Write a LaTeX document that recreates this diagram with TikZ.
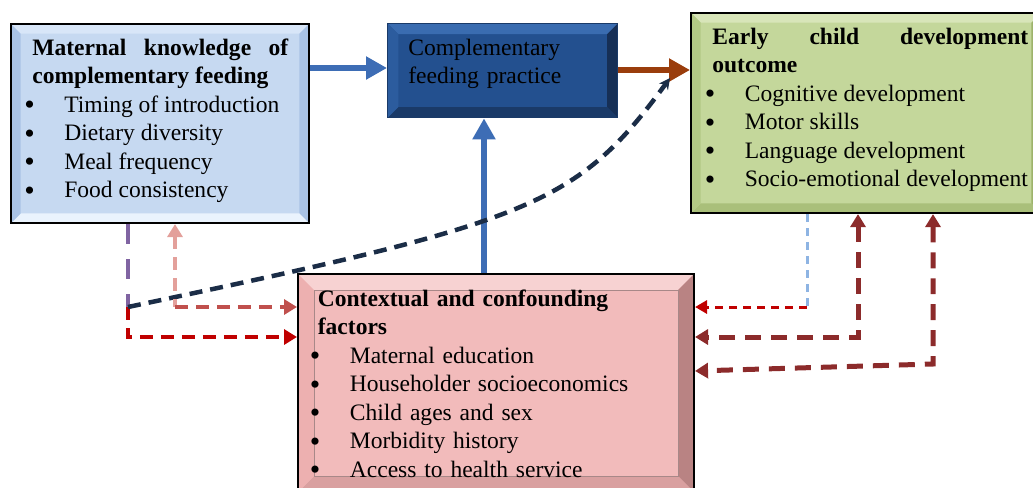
\documentclass[tikz,border=0pt]{standalone}
\usepackage{fontspec}
\setmainfont{Liberation Serif}
\usepackage{xcolor}
\usetikzlibrary{arrows.meta, positioning}

\definecolor{knowfill}{HTML}{C6D9F1}
\definecolor{knowtop}{HTML}{D8E6F8}
\definecolor{knowside}{HTML}{A9C3E6}
\definecolor{knowbot}{HTML}{EAF3FD}
\definecolor{pracfill}{HTML}{23508F}
\definecolor{practop}{HTML}{3A6CB0}
\definecolor{pracleft}{HTML}{2C5C9E}
\definecolor{pracright}{HTML}{162F56}
\definecolor{pracbot}{HTML}{1A3A68}
\definecolor{outfill}{HTML}{C4D79B}
\definecolor{outtop}{HTML}{D8E5B9}
\definecolor{outleft}{HTML}{B3C985}
\definecolor{outright}{HTML}{9DB36B}
\definecolor{outbot}{HTML}{A9BF7A}
\definecolor{confill}{HTML}{F2BBBB}
\definecolor{contop}{HTML}{F7D2D2}
\definecolor{conleft}{HTML}{EDB0B0}
\definecolor{conright}{HTML}{B98383}
\definecolor{conbot}{HTML}{D9A0A0}
\definecolor{conedge}{HTML}{A88888}
\definecolor{linkblue}{HTML}{3D6DB5}
\definecolor{linkbrown}{HTML}{9A3D0C}
\definecolor{linknavy}{HTML}{1B2D47}
\definecolor{linkpurple}{HTML}{8064A2}
\definecolor{linkred}{HTML}{C00000}
\definecolor{linksalmon}{HTML}{E3A09B}
\definecolor{linksalmondk}{HTML}{C0504D}
\definecolor{linkltblue}{HTML}{8EB4E3}
\definecolor{linkmaroon}{HTML}{8C2B2B}

\newcommand{\itm}[1]{\makebox[0.8cm][l]{\raisebox{-0.05cm}{\fontsize{17}{16}\selectfont\textbullet}}#1}

\tikzset{
    bevel/.style n args={6}{path picture={
        \coordinate (nw) at (path picture bounding box.north west);
        \coordinate (ne) at (path picture bounding box.north east);
        \coordinate (sw) at (path picture bounding box.south west);
        \coordinate (se) at (path picture bounding box.south east);
        \fill[#1] (nw) -- (ne) -- ([shift={(-#5,-#5)}]ne) -- ([shift={(#5,-#5)}]nw) -- cycle;
        \fill[#2] (ne) -- (se) -- ([shift={(-#5,#5)}]se) -- ([shift={(-#5,-#5)}]ne) -- cycle;
        \fill[#3] (se) -- (sw) -- ([shift={(#5,#5)}]sw) -- ([shift={(-#5,#5)}]se) -- cycle;
        \fill[#4] (sw) -- (nw) -- ([shift={(#5,-#5)}]nw) -- ([shift={(#5,#5)}]sw) -- cycle;
        \draw[#6] ([shift={(#5,-#5)}]nw) rectangle ([shift={(-#5,#5)}]se);
    }},
    box/.style={rectangle, draw=black, line width=1.2pt, anchor=north west, inner sep=0pt},
    boxtext/.style={anchor=north west, inner sep=0pt, align=justify, font=\fontsize{13.4}{16.2}\selectfont},
    solidarrow/.style={line width=0.12cm, -{Triangle[length=0.42cm, width=0.44cm]}},
    dashlink/.style={line width=0.09cm, dash pattern=on 0.26cm off 0.16cm},
    dtip/.tip={Triangle[length=0.26cm, width=0.3cm]}
}

\begin{document}
\begin{tikzpicture}[x=0.02cm, y=-0.02cm]
    \useasboundingbox (0,0) rectangle (1033,487);
    \clip (0,0) rectangle (1033,487);

    \node (know) [box, fill=knowfill, minimum width=5.96cm, minimum height=3.98cm,
        bevel={knowtop}{knowside}{knowbot}{knowside}{5.5pt}{draw=none}] at (10,23) {};
    \node (prac) [box, draw=pracbot, line width=0.8pt, fill=pracfill, minimum width=4.6cm, minimum height=1.88cm,
        bevel={practop}{pracright}{pracbot}{pracleft}{6pt}{draw=none}] at (387,23) {};
    \node (out) [box, fill=outfill, minimum width=7cm, minimum height=4cm,
        bevel={outtop}{outright}{outbot}{outleft}{5.5pt}{draw=none}] at (690,12) {};
    \node (con) [box, fill=confill, minimum width=7.92cm, minimum height=4.36cm,
        bevel={contop}{conright}{conbot}{conleft}{9pt}{draw=conedge, line width=0.4pt}] at (297,273) {};

    \node (knowtxt) [boxtext, text width=5.28cm] at (24,38.5)
        {\hspace*{0.16cm}\textbf{Maternal knowledge of\linebreak\hspace*{0.16cm}complementary feeding}\\
        \itm{Timing of introduction}\\ \itm{Dietary diversity}\\
        \itm{Meal frequency}\\ \itm{Food consistency}};
    \node (practxt) [boxtext, align=left, text width=4cm] at (408,38.5)
        {Complementary\\ feeding practice};
    \node (outtxt) [boxtext, text width=6.47cm] at (704.5,27.5)
        {\hspace*{0.15cm}\textbf{Early child development\linebreak\hspace*{0.15cm}outcome}\\
        \itm{Cognitive development}\\ \itm{Motor skills}\\
        \itm{Language development}\\ \itm{Socio-emotional development}};
    \node (contxt) [boxtext, align=left, text width=7.4cm] at (309.5,289.5)
        {\hspace*{0.16cm}\textbf{Contextual and confounding}\\ \hspace*{0.16cm}\textbf{factors}\\
        \itm{Maternal education}\\ \itm{Householder socioeconomics}\\
        \itm{Child ages and sex}\\ \itm{Morbidity history}\\
        \itm{Access to health service}};

    \draw [solidarrow, linkblue] (know.east |- 0,68) -- (prac.west |- 0,68);
    \draw [solidarrow, linkbrown] (prac.east |- 0,70) -- (out.west |- 0,70);
    \draw [solidarrow, linkblue] (con.north -| 484,0) -- (prac.south -| 484,0);

    \coordinate (split) at (128,307);
    \coordinate (lowbend) at (128,337);
    \coordinate (curveend) at (670,78);
    \draw [dashlink, linkpurple, dash pattern=on 0.4cm off 0.3cm] (know.south -| split) -- (split);
    \draw [dashlink, linkred, -dtip] (split) -- (lowbend) -- (con.west |- lowbend);
    \draw [dashlink, linknavy, -{Stealth[length=0.22cm, width=0.22cm]}] (split) .. controls (533,222) and (577,205) .. (curveend);

    \coordinate (sbend) at (175,307);
    \draw [dashlink, linksalmon, dtip-] (know.south -| sbend) -- (sbend);
    \draw [dashlink, linksalmondk, -dtip] (sbend) -- (con.west |- sbend);

    \coordinate (rb1) at (807,307);
    \coordinate (rb2) at (858,337);
    \coordinate (rb3) at (933,364);
    \draw [linkltblue, line width=0.06cm, dash pattern=on 0.16cm off 0.12cm] (out.south -| rb1) -- (rb1);
    \draw [linkred, line width=0.06cm, dash pattern=on 0.16cm off 0.12cm, -{Triangle[length=0.24cm, width=0.26cm]}] (rb1) -- (con.east |- rb1);
    \draw [linkmaroon, line width=0.1cm, dash pattern=on 0.32cm off 0.2cm, dtip-dtip] (out.south -| rb2) -- (rb2) -- (con.east |- rb2);
    \draw [linkmaroon, line width=0.1cm, dash pattern=on 0.32cm off 0.2cm, dtip-dtip] (out.south -| rb3) -- (rb3) -- (con.east |- 0,371);
\end{tikzpicture}
\end{document}
